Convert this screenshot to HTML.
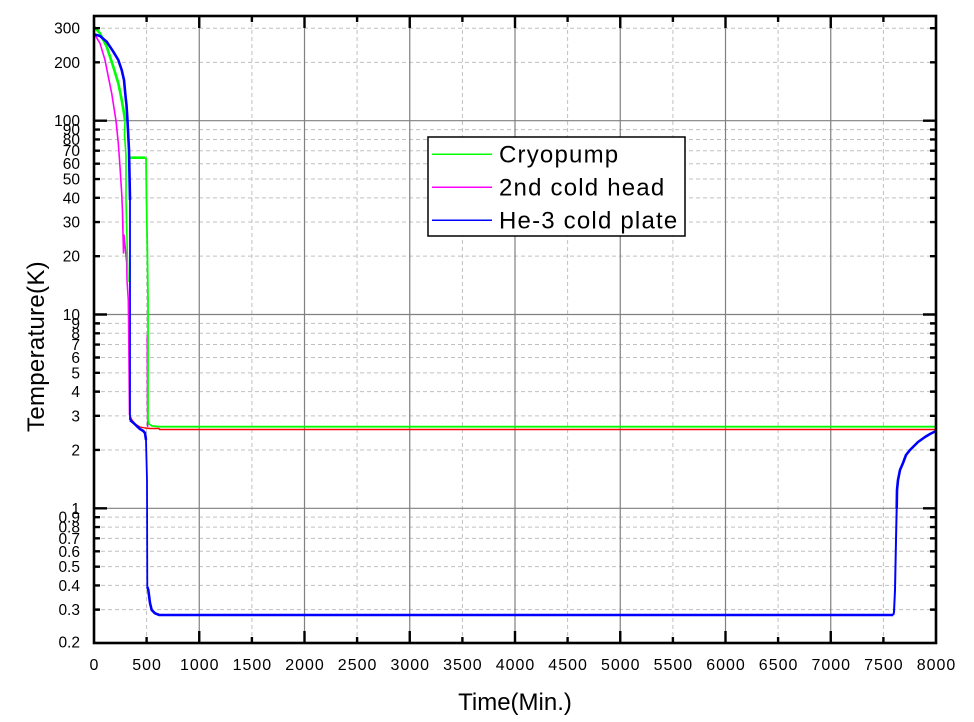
<!DOCTYPE html>
<html><head><meta charset="utf-8"><style>
html,body{margin:0;padding:0;background:#fff;}
svg{display:block;}
text{font-family:"Liberation Sans",Arial,sans-serif;fill:#000;}
</style></head><body>
<svg width="974" height="722" viewBox="0 0 974 722" xmlns="http://www.w3.org/2000/svg">
<rect x="0" y="0" width="974" height="722" fill="#fff"/>
<!-- dashed grid -->
<g stroke="#c0c0c0" stroke-width="1" stroke-dasharray="4 3" fill="none">
<path d="M146.6 16V643M251.9 16V643M357.1 16V643M462.4 16V643M567.6 16V643M672.9 16V643M778.1 16V643M883.4 16V643"/>
<path d="M94 28.23H936M94 62.36H936M94 129.57H936M94 139.48H936M94 150.72H936M94 163.69H936M94 179.04H936M94 197.82H936M94 222.03H936M94 256.16H936M94 323.37H936M94 333.28H936M94 344.52H936M94 357.49H936M94 372.84H936M94 391.62H936M94 415.83H936M94 449.96H936M94 517.17H936M94 527.08H936M94 538.32H936M94 551.29H936M94 566.64H936M94 585.42H936M94 609.63H936"/>
</g>
<!-- solid grid -->
<g stroke="#808080" stroke-width="1.2" fill="none">
<path d="M199.25 16V643M304.5 16V643M409.75 16V643M515 16V643M620.25 16V643M725.5 16V643M830.75 16V643"/>
<path d="M94 120.7H936M94 314.5H936M94 508.3H936"/>
</g>
<!-- data: 2nd cold head -->
<g fill="none" stroke-linejoin="round">
<polyline stroke="#ff00ff" stroke-width="1.6" points="94,33.3 100,43.3 105,60 108.3,76.7 111.7,93.3 114.3,110 116,120.7 118.3,143.3 120,166.7 121.7,193.3 122.5,212 123,230 122.5,215 123.5,253 124,235 125,245 126.7,263 127,280 128.3,300 128.5,315 129.5,415"/>
<polyline stroke="#ff0000" stroke-width="1.4" points="129.5,415 132,420 135,424 140,427 145,428 150,428.5 159,428.5 159.5,429.5 936,429.5"/>
<polyline stroke="#ff00ff" stroke-width="1.6" points="147.3,335 147.5,400 147.7,427"/>
<!-- cryopump -->
<polyline stroke="#00ff00" stroke-width="2.6" points="94,26.7 100,33.3 106.7,46.7 113.3,66.7 118.3,83.3 121.7,100 124,113.3 125,120.7"/>
<polyline stroke="#00ff00" stroke-width="1.6" points="125,120.7 124.5,135 126,155 126,200 127,240 128,282"/>
<polyline stroke="#00ff00" stroke-width="2.6" points="128,157.7 145.5,157.7"/>
<polyline stroke="#00ff00" stroke-width="1.8" points="146,157.7 146.5,200 147.5,260 148,300 148,420 149,424 152,426 160,426.7 936,426.7"/>
<!-- He-3 cold plate -->
<polyline stroke="#0000ff" stroke-width="2.6" points="94,34.3 100,36 106.7,41.7 113.3,51.7 118.3,60 121.7,70 124,80 125.5,96 126.5,105 127.5,120.7 129,150 130,200"/>
<polyline stroke="#0000ff" stroke-width="1.8" points="130,200 130,420"/>
<polyline stroke="#0000ff" stroke-width="2.6" points="130,420 133.3,422.7 136.7,426 140,429 143.3,431 145,433 146,440"/>
<polyline stroke="#0000ff" stroke-width="1.8" points="146,440 147,480 147.3,586.7"/>
<polyline stroke="#0000ff" stroke-width="2.6" points="147.3,586.7 148.3,590 150,603 151.7,610 155,613.3 159.3,615 893.3,615"/>
<polyline stroke="#0000ff" stroke-width="2" points="893.3,615 894,612 895,590 896,540 896.7,508"/>
<polyline stroke="#0000ff" stroke-width="2.6" points="896.7,508 897,490 898,480 900,470 903,463 906,455 910,450 913,447 918,442 925,437 930,434 936,431"/>
</g>
<!-- legend -->
<rect x="428" y="137" width="257" height="99" fill="#fff" stroke="#000" stroke-width="1.5"/>
<line x1="432" y1="154.3" x2="492" y2="154.3" stroke="#00ff00" stroke-width="1.5"/>
<line x1="432" y1="187.3" x2="492" y2="187.3" stroke="#ff00ff" stroke-width="1.5"/>
<line x1="432" y1="220.3" x2="492" y2="220.3" stroke="#0000ff" stroke-width="1.5"/>
<g font-size="24" letter-spacing="1.2">
<text x="499" y="162.5">Cryopump</text>
<text x="499" y="195.5">2nd cold head</text>
<text x="499" y="228.5">He-3 cold plate</text>
</g>
<!-- frame -->
<rect x="94" y="16" width="842" height="627" fill="none" stroke="#000" stroke-width="2.6"/>
<!-- ticks -->
<g stroke="#000" stroke-width="2.4" fill="none">
<path d="M94 120.7H107M94 314.5H107M94 508.3H107M936 120.7H923M936 314.5H923M936 508.3H923"/>
<path d="M94 28.23H100M94 62.36H100M94 129.57H100M94 139.48H100M94 150.72H100M94 163.69H100M94 179.04H100M94 197.82H100M94 222.03H100M94 256.16H100M94 323.37H100M94 333.28H100M94 344.52H100M94 357.49H100M94 372.84H100M94 391.62H100M94 415.83H100M94 449.96H100M94 517.17H100M94 527.08H100M94 538.32H100M94 551.29H100M94 566.64H100M94 585.42H100M94 609.63H100"/>
<path d="M936 28.23H930M936 62.36H930M936 129.57H930M936 139.48H930M936 150.72H930M936 163.69H930M936 179.04H930M936 197.82H930M936 222.03H930M936 256.16H930M936 323.37H930M936 333.28H930M936 344.52H930M936 357.49H930M936 372.84H930M936 391.62H930M936 415.83H930M936 449.96H930M936 517.17H930M936 527.08H930M936 538.32H930M936 551.29H930M936 566.64H930M936 585.42H930M936 609.63H930"/>
<path d="M199.25 643V631M304.5 643V631M409.75 643V631M515 643V631M620.25 643V631M725.5 643V631M830.75 643V631"/>
<path d="M146.6 643V637M251.9 643V637M357.1 643V637M462.4 643V637M567.6 643V637M672.9 643V637M778.1 643V637M883.4 643V637"/>
<path d="M199.25 16V28M304.5 16V28M409.75 16V28M515 16V28M620.25 16V28M725.5 16V28M830.75 16V28"/>
<path d="M146.6 16V22M251.9 16V22M357.1 16V22M462.4 16V22M567.6 16V22M672.9 16V22M778.1 16V22M883.4 16V22"/>
</g>
<!-- y tick labels -->
<g font-size="15.5" text-anchor="end">
<text x="80" y="33.7">300</text>
<text x="80" y="67.9">200</text>
<text x="80" y="126.2">100</text>
<text x="80" y="135.1">90</text>
<text x="80" y="145">80</text>
<text x="80" y="156.2">70</text>
<text x="80" y="169.2">60</text>
<text x="80" y="184.5">50</text>
<text x="80" y="203.3">40</text>
<text x="80" y="227.5">30</text>
<text x="80" y="261.7">20</text>
<text x="80" y="320">10</text>
<text x="80" y="328.9">9</text>
<text x="80" y="338.8">8</text>
<text x="80" y="350">7</text>
<text x="80" y="363">6</text>
<text x="80" y="378.3">5</text>
<text x="80" y="397.1">4</text>
<text x="80" y="421.3">3</text>
<text x="80" y="455.5">2</text>
<text x="80" y="513.8">1</text>
<text x="80" y="522.7">0.9</text>
<text x="80" y="532.6">0.8</text>
<text x="80" y="543.8">0.7</text>
<text x="80" y="556.8">0.6</text>
<text x="80" y="572.1">0.5</text>
<text x="80" y="590.9">0.4</text>
<text x="80" y="615.1">0.3</text>
<text x="80" y="647.5">0.2</text>
</g>
<!-- x tick labels -->
<g font-size="16" letter-spacing="1" text-anchor="middle">
<text x="94.5" y="670">0</text>
<text x="147.1" y="670">500</text>
<text x="199.75" y="670">1000</text>
<text x="252.4" y="670">1500</text>
<text x="305" y="670">2000</text>
<text x="357.6" y="670">2500</text>
<text x="410.25" y="670">3000</text>
<text x="462.9" y="670">3500</text>
<text x="515.5" y="670">4000</text>
<text x="568.1" y="670">4500</text>
<text x="620.75" y="670">5000</text>
<text x="673.4" y="670">5500</text>
<text x="726" y="670">6000</text>
<text x="778.6" y="670">6500</text>
<text x="831.25" y="670">7000</text>
<text x="883.9" y="670">7500</text>
<text x="936.5" y="670">8000</text>
</g>
<!-- axis titles -->
<text x="515" y="710" font-size="24" text-anchor="middle">Time(Min.)</text>
<text transform="translate(44,346.5) rotate(-90)" font-size="24" letter-spacing="0.3" text-anchor="middle">Temperature(K)</text>
</svg>
</body></html>
